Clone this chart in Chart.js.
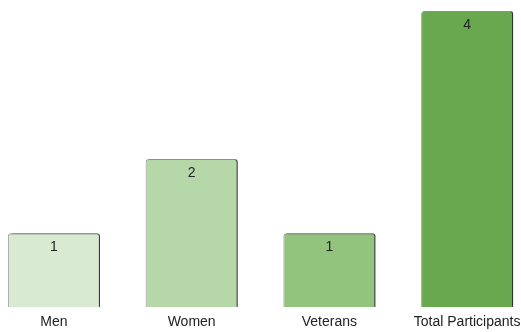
<!DOCTYPE html>
<html>
<head>
<meta charset="utf-8">
<script src="https://cdn.jsdelivr.net/npm/chart.js@4.4.0/dist/chart.umd.min.js"></script>
<style>
  html, body { margin: 0; padding: 0; background: #fff; overflow: hidden; }
  #wrap { position: absolute; left: -15px; top: 0; width: 551px; height: 338px; }
</style>
</head>
<body>
<div id="wrap"><canvas id="participantsChart"></canvas></div>
<script>
// participant counts per group
const categories = ['Men', 'Women', 'Veterans', 'Total Participants'];
const counts = [1, 2, 1, 4];
const barColors = ['#d9ead3', '#b6d7a8', '#93c47d', '#6aa84f'];

const fontFamily = '"Liberation Sans", Arial, sans-serif';

// drop shadow on the right side of each bar
const barShadow = {
    id: 'barShadow',
    beforeDatasetsDraw(chart) {
        const ctx = chart.ctx;
        ctx.save();
        ctx.shadowColor = 'rgba(0,0,0,0.75)';
        ctx.shadowOffsetX = 2;
        ctx.shadowOffsetY = 0;
        ctx.shadowBlur = 1;
    },
    afterDatasetsDraw(chart) {
        chart.ctx.restore();
    }
};

// value printed just inside the top of each bar
const valueLabels = {
    id: 'valueLabels',
    afterDraw(chart) {
        const ctx = chart.ctx;
        const meta = chart.getDatasetMeta(0);
        ctx.save();
        ctx.font = '14px ' + fontFamily;
        ctx.fillStyle = '#222';
        ctx.textAlign = 'center';
        ctx.textBaseline = 'middle';
        meta.data.forEach((bar, i) => {
            ctx.fillText(String(counts[i]), bar.x, bar.y + 14);
        });
        ctx.restore();
    }
};

const ctx = document.getElementById('participantsChart').getContext('2d');
new Chart(ctx, {
    type: 'bar',
    data: {
        labels: categories,
        datasets: [{
            data: counts,
            backgroundColor: barColors,
            borderColor: '#9a9a9a',
            borderWidth: 1,
            borderRadius: { topLeft: 3, topRight: 3 },
            borderSkipped: 'bottom',
            categoryPercentage: 1,
            barPercentage: 0.668
        }]
    },
    options: {
        responsive: true,
        maintainAspectRatio: false,
        animation: false,
        layout: { padding: { top: 11, bottom: 0, left: 0, right: 0 } },
        plugins: {
            legend: { display: false },
            tooltip: { enabled: false }
        },
        scales: {
            x: {
                grid: { display: false, drawTicks: false },
                border: { display: false },
                ticks: {
                    padding: 7,
                    color: '#222',
                    font: { family: fontFamily, size: 14 },
                    maxRotation: 0
                }
            },
            y: {
                display: false,
                min: 0,
                max: 4
            }
        }
    },
    plugins: [barShadow, valueLabels]
});
</script>
</body>
</html>
